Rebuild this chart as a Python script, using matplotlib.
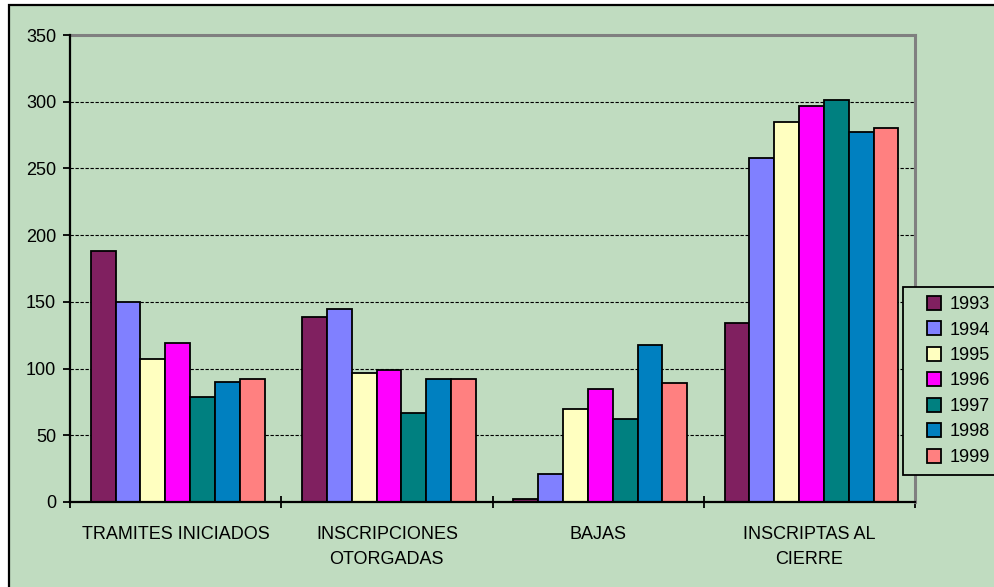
import matplotlib
matplotlib.use("Agg")
import matplotlib.pyplot as plt
from matplotlib.lines import Line2D
from matplotlib.patches import Rectangle
import numpy as np

plt.rcParams['font.family'] = ['Liberation Sans', 'DejaVu Sans']

categories = ["TRAMITES INICIADOS", "INSCRIPCIONES\nOTORGADAS", "BAJAS", "INSCRIPTAS AL\nCIERRE"]
years = ["1993", "1994", "1995", "1996", "1997", "1998", "1999"]
colors = ["#802060", "#8080FF", "#FFFFC0", "#FF00FF", "#008080", "#0080C0", "#FF8080"]

v1993 = [188, 139, 2, 134]
v1994 = [150, 145, 21, 258]
v1995 = [107, 97, 70, 285]
v1996 = [119, 99, 85, 297]
v1997 = [79, 67, 62, 301]
v1998 = [90, 92, 118, 277]
v1999 = [92, 92, 89, 280]
series = [v1993, v1994, v1995, v1996, v1997, v1998, v1999]

yticks = [0, 50, 100, 150, 200, 250, 300, 350]

W, H = 994, 587
fig = plt.figure(figsize=(W / 100, H / 100), dpi=100, facecolor="white")
bg = "#C0DCC0"

# chart area background with black frame (extends past the bottom/right edges)
fig.patches.append(Rectangle((8.5 / W, -0.05), 1.1, (H - 4.5) / H + 0.05,
                             transform=fig.transFigure, facecolor=bg,
                             edgecolor="black", linewidth=1.6, zorder=-5))

ax = fig.add_axes([70 / W, (H - 502) / H, (915 - 70) / W, (502 - 35) / H])
ax.set_facecolor(bg)

x = np.arange(len(categories))
n = len(series)
w = 1 / (n + 1.5)
shift = 0.01
for i, (vals, c, yr) in enumerate(zip(series, colors, years)):
    ax.bar(x + shift + (i - (n - 1) / 2) * w, vals, width=w, color=c,
           edgecolor="black", linewidth=1.3, label=yr, zorder=3)

ax.set_xlim(-0.5, len(categories) - 0.5)
ax.set_ylim(0, 350)
ax.set_yticks(yticks)
ax.set_yticklabels([str(t) for t in yticks])

for y in yticks[1:-1]:
    ax.axhline(y, color="black", linestyle=(0, (3, 1.5)), linewidth=0.8, zorder=1)

ax.set_xticks(x)
ax.set_xticklabels(categories, linespacing=1.65)
ax.set_xticks(np.arange(len(categories) + 1) - 0.5, minor=True)
ax.tick_params(axis="x", which="major", length=0, pad=17, labelsize=13)
ax.tick_params(axis="x", which="minor", direction="inout", length=9, width=1.3)
ax.tick_params(axis="y", direction="out", length=5, width=1.3, pad=5, labelsize=13)

for s in ("left", "bottom"):
    ax.spines[s].set_color("black")
    ax.spines[s].set_linewidth(1.6)
for s in ("top", "right"):
    ax.spines[s].set_color("#808080")
    ax.spines[s].set_linewidth(2.2)
ax.spines["left"].set_zorder(5)
ax.spines["bottom"].set_zorder(5)

handles = [Line2D([], [], linestyle="none", marker="s", markersize=9.5,
                  markerfacecolor=c, markeredgecolor="black", markeredgewidth=1.3)
           for c in colors]
leg = fig.legend(handles, years, loc="upper left",
                 bbox_to_anchor=(903 / W, (H - 287) / H),
                 bbox_transform=fig.transFigure, fontsize=13,
                 frameon=True, fancybox=False, edgecolor="black",
                 facecolor=bg, framealpha=1, borderpad=0.5,
                 handlelength=2.4, handletextpad=-0.3, labelspacing=0.47,
                 borderaxespad=0)
leg.get_frame().set_linewidth(1.3)

fig.savefig("out.png", dpi=100, facecolor="white")
